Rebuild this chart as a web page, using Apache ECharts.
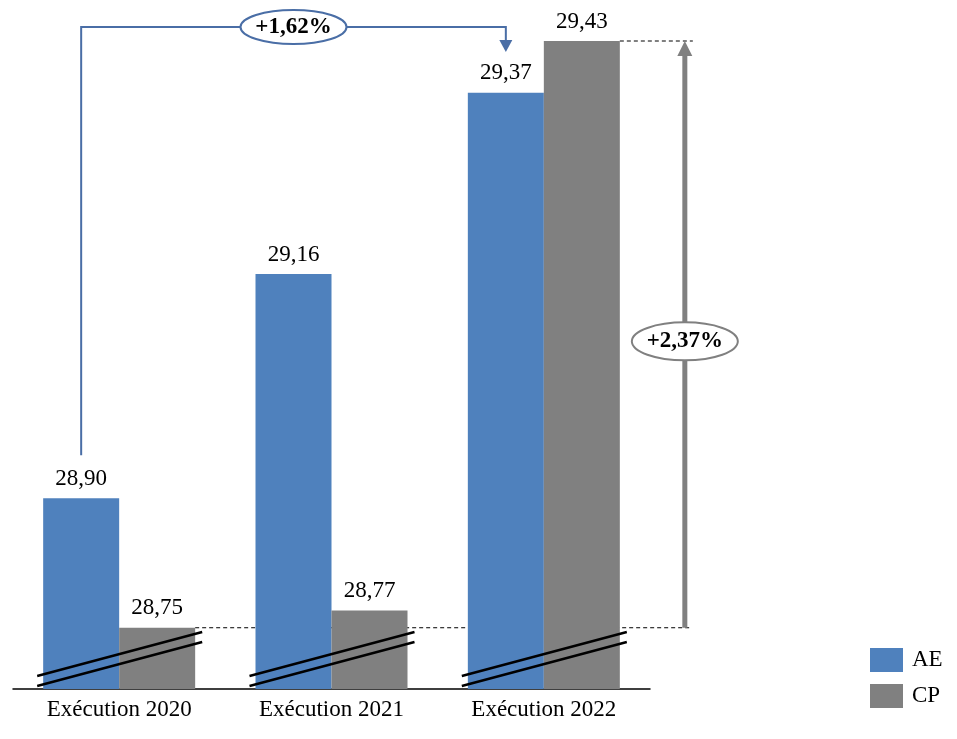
<!DOCTYPE html>
<html>
<head>
<meta charset="utf-8">
<script src="https://cdn.jsdelivr.net/npm/echarts@6/dist/echarts.min.js"></script>
<style>
html,body{margin:0;padding:0;background:#fff;}
#chart{width:957px;height:739px;}
</style>
</head>
<body>
<div id="chart"></div>
<script>
// ---- Data ----
const categories = ['Exécution 2020', 'Exécution 2021', 'Exécution 2022'];
const seriesNames = ['AE', 'CP'];
const aeValues = [28.90, 29.16, 29.37];
const cpValues = [28.75, 28.77, 29.43];
const growthAE = '+1,62%';
const growthCP = '+2,37%';
const yMin = 28.679;
const yMax = 29.43;

const FONT = '"Liberation Serif", "Times New Roman", serif';
const BLUE = '#4F81BD';
const GRAY = '#808080';
const LINE_BLUE = '#4A6EA6';

const fmt = v => v.toFixed(2).replace('.', ',');

const chart = echarts.init(document.getElementById('chart'), null, {renderer: 'canvas'});

const option = {
  animation: false,
  backgroundColor: '#fff',
  grid: {left: 13, right: 307, top: 41, bottom: 50, containLabel: false},
  legend: {
    data: seriesNames,
    orient: 'vertical',
    left: 865,
    top: 643,
    itemWidth: 33,
    itemHeight: 24,
    itemGap: 12,
    icon: 'rect',
    textStyle: {fontFamily: FONT, fontSize: 23, color: '#000', padding: [0, 0, 0, 4]}
  },
  xAxis: {
    type: 'category',
    data: categories,
    axisLine: {lineStyle: {color: '#000', width: 1.5}},
    axisTick: {show: false},
    axisLabel: {fontFamily: FONT, fontSize: 23, color: '#000', margin: 9}
  },
  yAxis: {
    type: 'value',
    min: yMin,
    max: yMax,
    show: false,
    splitLine: {show: false}
  },
  series: [
    {
      name: 'AE', type: 'bar', data: aeValues, barWidth: 76, barGap: '0%',
      itemStyle: {color: BLUE},
      label: {show: true, position: 'top', distance: 8, fontFamily: FONT, fontSize: 23, color: '#000',
        formatter: p => fmt(p.value)}
    },
    {
      name: 'CP', type: 'bar', data: cpValues, barWidth: 76, barGap: '0%',
      itemStyle: {color: GRAY},
      label: {show: true, position: 'top', distance: 8, fontFamily: FONT, fontSize: 23, color: '#000',
        formatter: p => fmt(p.value)}
    }
  ]
};
chart.setOption(option);

// ---- Annotations computed from the axes ----
const toPx = (cat, val) => chart.convertToPixel({xAxisIndex: 0, yAxisIndex: 0}, [cat, val]);
const half = 38;
const yBase = toPx(0, yMin)[1];
const yTopPlot = toPx(0, yMax)[1];

const xAE = i => toPx(i, 0)[0] - half;
const xCPright = i => toPx(i, 0)[0] + 2 * half;
const yOf = v => toPx(0, v)[1];

const els = [];

// break marks
for (let i = 0; i < categories.length; i++) {
  const xc = toPx(i, yMin)[0];
  [0, 10].forEach(off => {
    els.push({
      type: 'line', z: 100,
      shape: {x1: xc - 82, y1: yBase - 13 + off, x2: xc + 83, y2: yBase - 57 + off},
      style: {stroke: '#000', lineWidth: 2.5}
    });
  });
}

// dashed reference lines (behind bars)
const xArrow = toPx(2, 0)[0] + 141;
els.push({
  type: 'line', z: 0,
  shape: {x1: xCPright(0), y1: yOf(cpValues[0]), x2: xArrow + 5, y2: yOf(cpValues[0])},
  style: {stroke: '#000', lineWidth: 1, lineDash: [4, 3]}
});
els.push({
  type: 'line', z: 0,
  shape: {x1: xCPright(2), y1: yOf(cpValues[2]), x2: xArrow + 8, y2: yOf(cpValues[2])},
  style: {stroke: '#000', lineWidth: 1, lineDash: [4, 3]}
});

// gray vertical arrow (CP growth)
const yArrowTop = yOf(cpValues[2]);
els.push({
  type: 'rect', z: 100,
  shape: {x: xArrow - 2.5, y: yArrowTop + 14, width: 5, height: yOf(cpValues[0]) - yArrowTop - 14},
  style: {fill: GRAY}
});
els.push({
  type: 'polygon', z: 100,
  shape: {points: [[xArrow - 7.5, yArrowTop + 15], [xArrow + 7.5, yArrowTop + 15], [xArrow, yArrowTop]]},
  style: {fill: GRAY}
});
const yMidCP = (yArrowTop + yOf(cpValues[0])) / 2 + 7;
els.push({
  type: 'ellipse', z: 101,
  shape: {cx: xArrow, cy: yMidCP, rx: 53, ry: 19},
  style: {fill: '#fff', stroke: GRAY, lineWidth: 2}
});
els.push({
  type: 'text', z: 102,
  x: xArrow, y: yMidCP,
  style: {text: growthCP, font: 'bold 23px ' + FONT, fill: '#000', align: 'center', verticalAlign: 'middle'}
});

// blue bracket (AE growth)
const x0 = xAE(0), x2 = xAE(2);
const yBr = yTopPlot - 14;
els.push({
  type: 'polyline', z: 100,
  shape: {points: [[x0, yOf(aeValues[0]) - 43], [x0, yBr], [x2, yBr], [x2, yTopPlot]]},
  style: {stroke: LINE_BLUE, lineWidth: 2, fill: null}
});
els.push({
  type: 'polygon', z: 100,
  shape: {points: [[x2 - 6.5, yTopPlot - 1], [x2 + 6.5, yTopPlot - 1], [x2, yTopPlot + 11]]},
  style: {fill: LINE_BLUE}
});
els.push({
  type: 'ellipse', z: 101,
  shape: {cx: (x0 + x2) / 2, cy: yBr, rx: 53, ry: 17},
  style: {fill: '#fff', stroke: LINE_BLUE, lineWidth: 2}
});
els.push({
  type: 'text', z: 102,
  x: (x0 + x2) / 2, y: yBr,
  style: {text: growthAE, font: 'bold 23px ' + FONT, fill: '#000', align: 'center', verticalAlign: 'middle'}
});

chart.setOption({graphic: {elements: els}});
</script>
</body>
</html>
